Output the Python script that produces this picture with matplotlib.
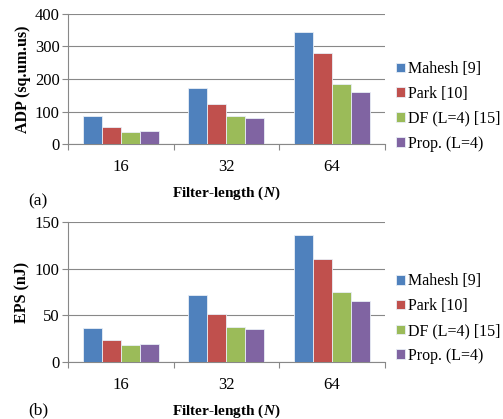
import matplotlib.pyplot as plt
import numpy as np

plt.rcParams['font.family'] = ['Liberation Serif', 'DejaVu Serif']
plt.rcParams['mathtext.fontset'] = 'custom'
plt.rcParams['mathtext.bfit'] = 'Liberation Serif:italic:bold'
plt.rcParams['mathtext.rm'] = 'Liberation Serif:bold'

lengths = ['16', '32', '64']
methods = ['Mahesh [9]', 'Park [10]', 'DF (L=4) [15]', 'Prop. (L=4)']
colors = ['#4F81BD', '#C0504D', '#9BBB59', '#8064A2']

adp = [[86, 172, 343],
       [54, 123, 280],
       [38, 85, 185],
       [41, 81, 161]]
eps = [[36, 72, 136],
       [24, 52, 110],
       [18, 37, 75],
       [19, 35, 65]]

fig = plt.figure(figsize=(5.03, 4.19), dpi=100)
ax1 = fig.add_axes([0.135, 0.656, 0.63, 0.311])
ax2 = fig.add_axes([0.135, 0.136, 0.63, 0.334])


def draw(ax, data, ylabel, ymax, step, legy):
    x = np.arange(len(lengths))
    w = 0.18
    for i, (name, vals) in enumerate(zip(methods, data)):
        ax.bar(x + (i - 1.5) * w, vals, w, color=colors[i], edgecolor='#e8eef6',
               linewidth=0.6, label=name, zorder=3)
    ax.set_xlim(-0.5, len(lengths) - 0.5)
    ax.set_ylim(0, ymax)
    ax.set_yticks(np.arange(0, ymax + 1, step))
    ax.set_xticks(np.arange(-0.5, len(lengths)), minor=False)
    ax.set_xticklabels([])
    ax.set_xticks(x, minor=True)
    ax.set_xticklabels(lengths, minor=True)
    ax.tick_params(axis='x', which='minor', length=0, labelsize=12, pad=11)
    ax.tick_params(axis='x', which='major', length=4, color='#888888')
    ax.tick_params(axis='y', length=4, color='#888888', labelsize=12, pad=2)
    ax.grid(axis='y', color='#888888', linewidth=0.8, zorder=0)
    for s in ['top', 'right']:
        ax.spines[s].set_visible(False)
    for s in ['left', 'bottom']:
        ax.spines[s].set_color('#888888')
    ax.set_ylabel(ylabel, fontsize=11.5, fontweight='bold', labelpad=3)
    ax.set_xlabel(r'Filter-length ($\mathbfit{N}$)', fontsize=11,
                  fontweight='bold', labelpad=7)
    ax.legend(loc='center left', bbox_to_anchor=(1.0, legy), frameon=False,
              fontsize=11.5, handlelength=0.55, handleheight=0.55,
              handletextpad=0.2, labelspacing=0.55, borderaxespad=0.3)


draw(ax1, adp, 'ADP (sq.um.us)', 400, 100, 0.29)
draw(ax2, eps, 'EPS (nJ)', 150, 50, 0.31)

fig.text(0.056, 0.51, '(a)', fontsize=12.5)
fig.text(0.056, 0.002, '(b)', fontsize=12.5, va='bottom')

fig.savefig('out.png', dpi=100)
